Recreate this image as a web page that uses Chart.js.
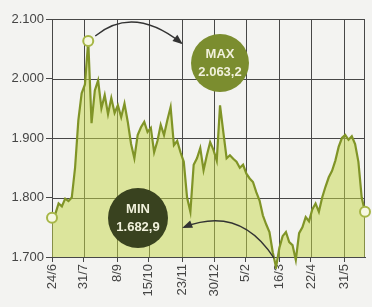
<!DOCTYPE html>
<html>
<head>
<meta charset="utf-8">
<script src="https://cdn.jsdelivr.net/npm/chart.js@4.4.0/dist/chart.umd.min.js"></script>
<style>
  html, body { margin: 0; padding: 0; background: #f3f3f1; }
  #wrap { width: 372px; height: 307px; position: relative; }
  #wrap canvas { position: absolute; left: 0; top: 0; }
  #under { z-index: 0; }
  #chart { z-index: 1; }
  #overlay { z-index: 2; pointer-events: none; }
</style>
</head>
<body>
<div id="wrap">
  <canvas id="under" width="372" height="307"></canvas>
  <canvas id="chart" width="372" height="307"></canvas>
  <canvas id="overlay" width="372" height="307"></canvas>
</div>
<script>
// x ticks: days after 24/6
const tickDays = [0, 37, 76, 113, 152, 189, 226, 265, 302, 341];
const tickLabels = ['24/6', '31/7', '8/9', '15/10', '23/11', '30/12', '5/2', '16/3', '22/4', '31/5'];
const yTicks = [1700, 1800, 1900, 2000, 2100];
const spanDays = 365;

// index readings, evenly spaced over the year
const values = [
  1766, 1772, 1790, 1785, 1798, 1794, 1800, 1850, 1930, 1975,
  1990, 2063.2, 1925, 1980, 1997, 1950, 1972, 1940, 1967, 1942,
  1955, 1935, 1958, 1927, 1890, 1866, 1905, 1918, 1927, 1910,
  1917, 1876, 1895, 1922, 1905, 1930, 1952, 1888, 1895, 1876,
  1860, 1800, 1776, 1855, 1866, 1883, 1846, 1871, 1893, 1880,
  1862, 1955, 1910, 1866, 1871, 1865, 1860, 1850, 1855, 1840,
  1832, 1826, 1809, 1795, 1770, 1755, 1742, 1708, 1682.9, 1715,
  1735, 1742, 1725, 1720, 1695, 1740, 1750, 1767, 1760, 1780,
  1790, 1776, 1800, 1818, 1834, 1845, 1862, 1885, 1900, 1905,
  1897, 1903, 1890, 1860, 1800, 1776
];
const markIdx = [0, 11, 68, 95]; // start, max, min, end
const maxText = ['MAX', '2.063,2'];
const minText = ['MIN', '1.682,9'];

const dayOf = i => i * spanDays / (values.length - 1);
const fmt = v => String(v).replace(/(\d)(\d{3})$/, '$1.$2');
const gridColor = '#474747';

function arrow(ctx, x0, y0, cx, cy, x1, y1) {
  ctx.beginPath();
  ctx.moveTo(x0, y0);
  ctx.quadraticCurveTo(cx, cy, x1, y1);
  ctx.stroke();
  const ang = Math.atan2(y1 - cy, x1 - cx);
  ctx.beginPath();
  ctx.moveTo(x1 + Math.cos(ang) * 2, y1 + Math.sin(ang) * 2);
  ctx.lineTo(x1 - Math.cos(ang - 0.45) * 9, y1 - Math.sin(ang - 0.45) * 9);
  ctx.lineTo(x1 - Math.cos(ang + 0.45) * 9, y1 - Math.sin(ang + 0.45) * 9);
  ctx.closePath();
  ctx.fill();
}

function bubble(ctx, x, y, r, color, lines) {
  ctx.beginPath();
  ctx.arc(x, y, r, 0, Math.PI * 2);
  ctx.fillStyle = color;
  ctx.fill();
  ctx.fillStyle = '#f1f1dc';
  ctx.font = 'bold 13px "Liberation Sans Narrow", "Liberation Sans", sans-serif';
  ctx.textAlign = 'center';
  ctx.textBaseline = 'middle';
  ctx.fillText(lines[0], x, y - 9);
  ctx.fillText(lines[1], x, y + 9);
}

// grid goes on a canvas under the chart, callouts on one above it
const layers = {
  id: 'layers',
  afterDraw(chart) {
    const { chartArea: a, scales: { x, y } } = chart;

    const g = document.getElementById('under').getContext('2d');
    g.clearRect(0, 0, 372, 307);
    g.strokeStyle = gridColor;
    g.lineWidth = 1;
    g.beginPath();
    tickDays.forEach(d => {
      const px = Math.round(x.getPixelForValue(d)) + 0.5;
      g.moveTo(px, a.top); g.lineTo(px, a.bottom);
    });
    yTicks.forEach(v => {
      const py = Math.round(y.getPixelForValue(v)) + 0.5;
      g.moveTo(a.left, py); g.lineTo(a.right, py);
    });
    const r = Math.round(a.right) - 0.5;
    g.moveTo(r, a.top); g.lineTo(r, a.bottom);
    g.stroke();

    const ctx = document.getElementById('overlay').getContext('2d');
    ctx.clearRect(0, 0, 372, 307);
    const hi = { x: x.getPixelForValue(dayOf(markIdx[1])), y: y.getPixelForValue(values[markIdx[1]]) };
    const lo = { x: x.getPixelForValue(dayOf(markIdx[2])), y: y.getPixelForValue(values[markIdx[2]]) };
    ctx.strokeStyle = '#333';
    ctx.fillStyle = '#333';
    ctx.lineWidth = 1.3;
    arrow(ctx, hi.x + 7, hi.y - 5, hi.x + 45, hi.y - 36, hi.x + 93, hi.y + 2);
    arrow(ctx, lo.x - 2, lo.y - 9, lo.x - 36, lo.y - 62, lo.x - 92, lo.y - 40);
    bubble(ctx, 220, 63, 29, '#7b8d2f', maxText);
    bubble(ctx, 138, 218, 30, '#39421f', minText);
  }
};

new Chart(document.getElementById('chart'), {
  type: 'line',
  data: {
    datasets: [{
      data: values.map((v, i) => ({ x: dayOf(i), y: v })),
      borderColor: '#809427',
      borderWidth: 2.2,
      backgroundColor: 'rgba(198,216,72,0.5)',
      fill: 'start',
      clip: 12,
      pointRadius: c => markIdx.includes(c.dataIndex) ? 5 : 0,
      pointBackgroundColor: '#f6f8e2',
      pointBorderColor: '#a6b646',
      pointBorderWidth: 2
    }]
  },
  options: {
    responsive: false,
    animation: false,
    devicePixelRatio: 1,
    layout: { padding: { top: 19, right: 4 } },
    plugins: { legend: { display: false }, tooltip: { enabled: false } },
    scales: {
      x: {
        type: 'linear',
        min: 0,
        max: spanDays,
        afterBuildTicks: s => { s.ticks = tickDays.map(v => ({ value: v })); },
        afterFit: s => { s.height = 50; },
        grid: { color: gridColor, tickLength: 5, drawOnChartArea: false },
        border: { color: gridColor },
        ticks: {
          autoSkip: false,
          minRotation: 90,
          maxRotation: 90,
          padding: 2,
          color: '#444',
          font: { family: 'Liberation Sans', size: 13 },
          callback: (v, i) => tickLabels[i]
        }
      },
      y: {
        min: yTicks[0],
        max: yTicks[yTicks.length - 1],
        afterBuildTicks: s => { s.ticks = yTicks.map(v => ({ value: v })); },
        afterFit: s => { s.width = 52; },
        grid: { color: gridColor, tickLength: 6, drawOnChartArea: false },
        border: { color: gridColor },
        ticks: {
          padding: 2,
          color: '#444',
          font: { family: 'Liberation Sans', size: 13 },
          callback: v => fmt(v)
        }
      }
    }
  },
  plugins: [layers]
});
</script>
</body>
</html>
